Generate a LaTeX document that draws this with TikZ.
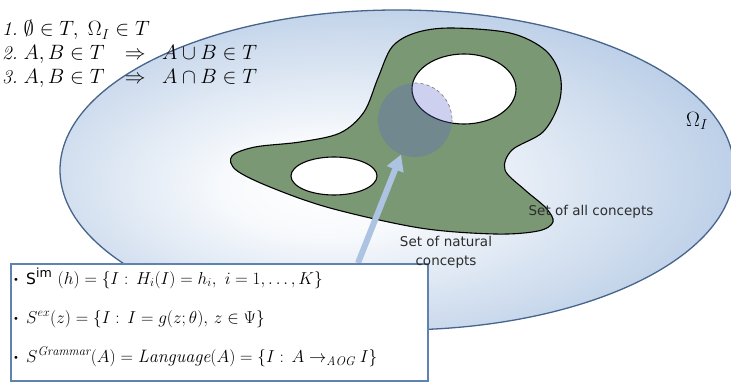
\documentclass[tikz,border=0pt]{standalone}
\usepackage{amsmath,amssymb}
\usepackage{fontspec}
\newfontfamily\labelfont{DejaVu Sans}
\usetikzlibrary{arrows.meta,positioning,calc}

\definecolor{omegaedge}{RGB}{70,100,140}
\definecolor{omegashade}{RGB}{150,180,218}
\definecolor{conceptgreen}{RGB}{123,152,117}
\definecolor{naturalblue}{RGB}{90,100,200}
\definecolor{arrowblue}{RGB}{172,196,226}
\definecolor{boxedge}{RGB}{95,130,175}
\definecolor{labelgray}{RGB}{45,45,45}

\pgfdeclareradialshading{universe}{\pgfpoint{-6bp}{-3bp}}{%
  color(0bp)=(white); color(8bp)=(white!92!omegashade);
  color(20bp)=(white!60!omegashade); color(34bp)=(white!22!omegashade);
  color(46bp)=(omegashade); color(60bp)=(omegashade)}

\begin{document}
\begin{tikzpicture}[
    x=1pt, y=-1pt,
    % node styles
    axiom/.style    = {font=\fontsize{19.5}{24}\selectfont, inner sep=0pt},
    formula/.style  = {font=\fontsize{18}{21}\selectfont, inner sep=0pt},
    dot/.style      = {font=\fontsize{11}{13}\selectfont, inner sep=0pt},
    setlabel/.style = {font=\labelfont\fontsize{13.5}{19}\selectfont,
                       text=labelgray, inner sep=0pt, align=center},
    omega/.style    = {font=\fontsize{21}{25}\selectfont, inner sep=0pt},
    % shapes
    hole/.style     = {draw=black, line width=1.1pt, fill=white},
    bigarrow/.style = {-{Triangle[width=17pt,length=16pt]}, line width=6pt,
                       arrowblue}
  ]
\useasboundingbox (0,0) rectangle (731,382);

% ============================================================
% Image space and the set of all concepts
% ============================================================
\path[draw=omegaedge, line width=1.3pt, shading=universe]
  (397,170) ellipse [x radius=337, y radius=160];

\draw[fill=conceptgreen, line width=1.1pt]
  plot[smooth cycle, tension=0.55] coordinates {
    (450,28) (510,33) (545,50) (560,75) (559,103) (543,132) (512,150)
    (505,170) (525,190) (546,208) (553,222) (538,231) (495,234) (420,228)
    (330,208) (270,187) (236,170) (232,156) (255,147) (300,142) (340,133)
    (364,112) (378,78) (392,47) (415,33)};

% holes
\draw[hole] (334,176) ellipse [x radius=43, y radius=19];
\draw[hole] (464,89) ellipse [x radius=52, y radius=35];

% natural concepts
\node[circle, minimum size=74pt, inner sep=0pt, fill=naturalblue,
      fill opacity=0.3] (natural) at (415,120) {};
\begin{scope}
  \clip (464,89) ellipse [x radius=52, y radius=35];
  \draw[dashed, gray, line width=0.7pt] (natural.center) circle [radius=37];
\end{scope}

\coordinate (tail) at (358,263);
\draw[bigarrow] (tail) -- (natural.248);

% ============================================================
% Definitions box
% ============================================================
\node[draw=boxedge, line width=1.5pt, fill=white, anchor=north west,
      minimum width=417pt, minimum height=117pt, inner sep=0pt]
  (defs) at (10,263) {};

\foreach \y [count=\i] in {280,319,358}
  \node[dot] (dot\i) at (16,\y) {\textbullet};

\node[formula, anchor=base west] (fim) at (26,284)
  {$\text{\labelfont\fontsize{15.5}{18}\selectfont S}^{\text{\labelfont im}}\ (h) = \{I :\, H_i(I) = h_i,\ i = 1, \dots, K\}$};
\node[formula, anchor=base west] (fex) at (26,323)
  {$S^{ex}(z) = \{I :\, I = g(z;\theta),\, z \in \Psi\}$};
\node[formula, anchor=base west] (fgr) at (26,362)
  {$S^{\mathit{Grammar}}(A) = \mathit{Language}(A) = \{I :\, A \to_{\mathit{AOG}} I\}$};

% ============================================================
% Labels
% ============================================================
\node[setlabel] (allset) at (591,212) {Set of all concepts};
\node[setlabel] (natset) at (446,252) {Set of natural\\concepts};
\node[omega] (omega) at (697,121) {$\Omega_I$};

\node[axiom, anchor=base west] (ax1) at (2,36)
  {\textit{1.}\ $\emptyset \in T,\ \Omega_I \in T$};
\node[axiom, anchor=base west] (ax2) at (2,60)
  {\textit{2.}\ $A,B \in T \hspace{0.75em}\Rightarrow\hspace{0.55em} A \cup B \in T$};
\node[axiom, anchor=base west] (ax3) at (2,84)
  {\textit{3.}\ $A,B \in T \hspace{0.75em}\Rightarrow\hspace{0.55em} A \cap B \in T$};

\end{tikzpicture}
\end{document}
